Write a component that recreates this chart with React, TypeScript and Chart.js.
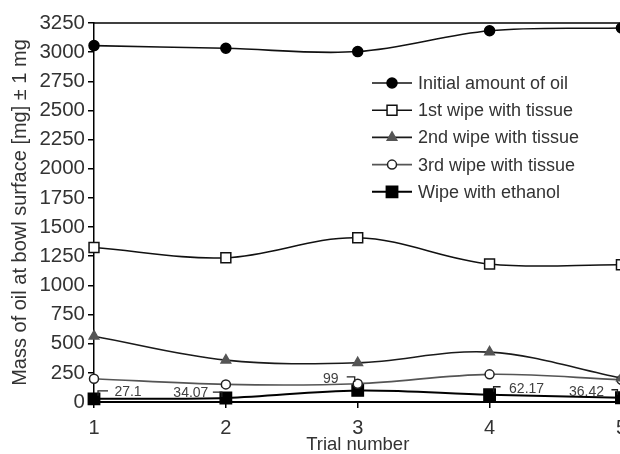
import React, { useEffect, useRef } from "react";
import { Chart, registerables } from "chart.js";

Chart.register(...registerables);

const FONT = "'Liberation Sans', Arial, Helvetica, sans-serif";
const TEXT = "#333333";

// ---- data ----
const trials = [1, 2, 3, 4, 5];
const initialOil = [3056, 3033, 3005, 3184, 3207];
const wipe1 = [1325, 1237, 1408, 1183, 1177];
const wipe2 = [564, 359, 336, 428, 205];
const wipe3 = [200, 151, 157, 237, 190];
const ethanol = [27.1, 34.07, 99, 62.17, 36.42];
const ethanolLabels = ["27.1", "34.07", "99", "62.17", "36.42"];
const yTicks = [0, 250, 500, 750, 1000, 1250, 1500, 1750, 2000, 2250, 2500, 2750, 3000, 3250];
const seriesNames = [
  "Initial amount of oil",
  "1st wipe with tissue",
  "2nd wipe with tissue",
  "3rd wipe with tissue",
  "Wipe with ethanol",
];
const yTitle = "Mass of oil at bowl surface [mg] \u00b1 1 mg";
const xTitle = "Trial number";

// ---- styles ----
type Style = { style: string; radius: number; fill: string; stroke: string; line: string; lw: number };
const styles: Style[] = [
  { style: "circle", radius: 5, fill: "#000", stroke: "#000", line: "#111", lw: 1.6 },
  { style: "rect", radius: 7, fill: "#fff", stroke: "#111", line: "#111", lw: 1.6 },
  { style: "triangle", radius: 5.5, fill: "#555", stroke: "#555", line: "#1a1a1a", lw: 1.6 },
  { style: "circle", radius: 4.5, fill: "#fff", stroke: "#222", line: "#555", lw: 1.6 },
  { style: "rect", radius: 8, fill: "#000", stroke: "#000", line: "#000", lw: 2 },
];

// label offsets (text dx, dy) and leader polyline relative to point
const labelLayout = [
  { dx: 34, dy: -7, leader: [[4, -3], [4, -8], [14, -8]] },
  { dx: -35, dy: -5, leader: [[-13, -6], [-4, -6], [-4, -1]] },
  { dx: -27, dy: -11.5, leader: [[-11, -13.5], [-3, -13.5], [-3, -8.5]] },
  { dx: 37, dy: -6, leader: [[4, -3], [4, -8], [11, -8]] },
  { dx: -35, dy: -6, leader: [[-10, -8], [-4, -8], [-4, -3]] },
];

function drawMarker(ctx: CanvasRenderingContext2D, s: Style, x: number, y: number) {
  ctx.save();
  ctx.beginPath();
  const r = s.radius;
  if (s.style === "circle") {
    ctx.arc(x, y, r, 0, Math.PI * 2);
  } else if (s.style === "rect") {
    const h = r * Math.SQRT1_2;
    ctx.rect(x - h, y - h, 2 * h, 2 * h);
  } else {
    const a = -Math.PI / 2;
    for (let k = 0; k < 3; k++) {
      const ang = a + (k * 2 * Math.PI) / 3;
      const px = x + Math.cos(ang) * r;
      const py = y + Math.sin(ang) * r;
      if (k === 0) ctx.moveTo(px, py);
      else ctx.lineTo(px, py);
    }
    ctx.closePath();
  }
  ctx.fillStyle = s.fill;
  ctx.fill();
  ctx.lineWidth = 1.5;
  ctx.strokeStyle = s.stroke;
  ctx.stroke();
  ctx.restore();
}

const extrasPlugin = {
  id: "extras",
  afterDatasetsDraw(chart: any) {
    const ctx: CanvasRenderingContext2D = chart.ctx;
    const { chartArea, scales } = chart;
    // top border
    ctx.save();
    ctx.strokeStyle = "#000";
    ctx.lineWidth = 1.5;
    ctx.beginPath();
    ctx.moveTo(chartArea.left, chartArea.top);
    ctx.lineTo(chartArea.right + 10, chartArea.top);
    ctx.stroke();
    ctx.restore();

    // ethanol data labels
    ctx.save();
    ctx.font = `14px ${FONT}`;
    ctx.fillStyle = "#404040";
    ctx.textAlign = "center";
    ctx.textBaseline = "middle";
    ctx.strokeStyle = "#222";
    ctx.lineWidth = 1.3;
    ethanol.forEach((v, i) => {
      const px = scales.x.getPixelForValue(trials[i]);
      const py = scales.y.getPixelForValue(v);
      const L = labelLayout[i];
      ctx.fillText(ethanolLabels[i], px + L.dx, py + L.dy);
      ctx.beginPath();
      L.leader.forEach((p, k) => {
        if (k === 0) ctx.moveTo(px + p[0], py + p[1]);
        else ctx.lineTo(px + p[0], py + p[1]);
      });
      ctx.stroke();
    });
    ctx.restore();

    // legend
    const lx0 = 372, lx1 = 412, mx = 392, tx = 418, ly0 = 83, lstep = 27.2;
    ctx.save();
    ctx.font = `18px ${FONT}`;
    ctx.fillStyle = TEXT;
    ctx.textAlign = "left";
    ctx.textBaseline = "middle";
    seriesNames.forEach((name, i) => {
      const y = ly0 + i * lstep;
      const s = styles[i];
      ctx.strokeStyle = s.line;
      ctx.lineWidth = s.lw;
      ctx.beginPath();
      ctx.moveTo(lx0, y);
      ctx.lineTo(lx1, y);
      ctx.stroke();
      drawMarker(ctx, s, mx, y);
      ctx.fillStyle = TEXT;
      ctx.fillText(name, tx, y + 1);
    });
    ctx.restore();
  },
};

const seriesValues = [initialOil, wipe1, wipe2, wipe3, ethanol];

export default function App() {
  const ref = useRef<HTMLCanvasElement | null>(null);
  useEffect(() => {
    if (!ref.current) return;
    const chart = new Chart(ref.current, {
      type: "line",
      data: {
        datasets: seriesValues.map((vals, i) => ({
          label: seriesNames[i],
          data: vals.map((v, k) => ({ x: trials[k], y: v })),
          borderColor: styles[i].line,
          borderWidth: styles[i].lw,
          pointStyle: styles[i].style as any,
          pointRadius: styles[i].radius,
          pointBackgroundColor: styles[i].fill,
          pointBorderColor: styles[i].stroke,
          pointBorderWidth: 1.5,
          tension: 0.35,
          cubicInterpolationMode: "default" as const,
          clip: false as any,
          fill: false,
        })),
      },
      options: {
        animation: false,
        responsive: false,
        devicePixelRatio: 1,
        layout: { padding: { top: 23, left: 0, right: 0, bottom: 0 } },
        plugins: { legend: { display: false }, tooltip: { enabled: false } },
        scales: {
          x: {
            type: "linear",
            min: 1,
            max: 5,
            afterBuildTicks: (s: any) => {
              s.ticks = trials.map((v) => ({ value: v }));
            },
            afterFit: (s: any) => {
              s.height = 52;
            },
            ticks: {
              font: { size: 20, family: FONT },
              color: TEXT,
              padding: 8,
              maxRotation: 0,
              callback: (v: any) => String(v),
            },
            grid: { drawOnChartArea: false, tickLength: 6, color: "#000", lineWidth: 1.5 },
            border: { color: "#000", width: 2 },
            title: {
              display: true,
              text: xTitle,
              font: { size: 18.5, family: FONT, lineHeight: 0.94 },
              color: TEXT,
              padding: { top: 0, bottom: 0 },
            },
          },
          y: {
            type: "linear",
            min: 0,
            max: 3250,
            afterBuildTicks: (s: any) => {
              s.ticks = yTicks.map((v) => ({ value: v }));
            },
            afterFit: (s: any) => {
              s.width = 94;
            },
            ticks: {
              font: { size: 20.5, family: FONT },
              color: TEXT,
              padding: 3,
              callback: (v: any) => String(v),
            },
            grid: { drawOnChartArea: false, tickLength: 6, color: "#000", lineWidth: 1.5 },
            border: { color: "#000", width: 1.5 },
            title: {
              display: true,
              text: yTitle,
              font: { size: 20, family: FONT },
              color: TEXT,
              padding: { top: 8, bottom: 0 },
            },
          },
        },
      },
      plugins: [extrasPlugin],
    });
    return () => chart.destroy();
  }, []);

  return (
    <div
      style={{
        position: "absolute",
        left: 0,
        top: 0,
        width: 620,
        height: 454,
        overflow: "hidden",
        background: "#fff",
      }}
    >
      <canvas ref={ref} width={635} height={454} style={{ display: "block", width: 635, height: 454 }} />
    </div>
  );
}
